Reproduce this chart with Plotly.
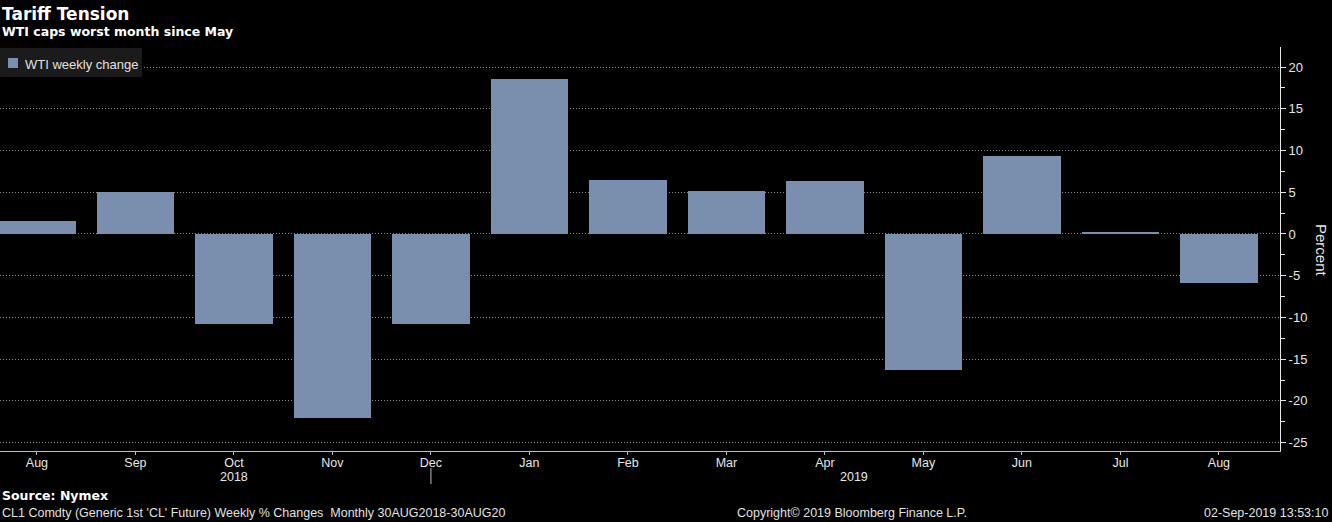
import plotly.graph_objects as go

months = ["Aug", "Sep", "Oct", "Nov", "Dec", "Jan", "Feb", "Mar", "Apr", "May", "Jun", "Jul", "Aug"]
values = [1.6, 5.0, -10.8, -22.0, -10.8, 18.6, 6.5, 5.2, 6.3, -16.3, 9.3, 0.2, -5.9]
y_ticks = [20, 15, 10, 5, 0, -5, -10, -15, -20, -25]
years = ["2018", "2019"]
year_pos = [2, 8.3]
x_idx = list(range(len(months)))
series_name = "WTI weekly change"

FONT = "Liberation Sans Narrow, Liberation Sans, Arial, sans-serif"
BOLD = "DejaVu Sans, Verdana, sans-serif"
BAR = "#7a8eae"
PLOT_W = 1280
PLOT_H = 404

fig = go.Figure()
fig.add_trace(go.Bar(
    x=x_idx, y=values, name=series_name,
    marker=dict(color=BAR, line=dict(width=0)),
    width=0.79, showlegend=False,
))

fig.update_layout(
    width=1332, height=522,
    paper_bgcolor="black", plot_bgcolor="black",
    margin=dict(l=0, r=52, t=47, b=71),
    font=dict(family=FONT, color="#e6e6e6", size=12),
    showlegend=False,
    bargap=0,
)

fig.update_xaxes(
    range=[-0.375, 12.62],
    tickvals=x_idx, ticktext=months,
    showgrid=False, zeroline=False,
    showline=True, linecolor="#bfbfbf", linewidth=1,
    ticks="outside", ticklen=3, tickcolor="#bfbfbf",
    ticklabelstandoff=-3,
    tickfont=dict(size=12.5, color="#e6e6e6"),
)

fig.update_yaxes(
    side="right",
    range=[-26.0, 22.4],
    tickvals=y_ticks, ticktext=[str(v) for v in y_ticks],
    showgrid=True, gridcolor="#8a8a8a", griddash="1px,2px", gridwidth=1,
    zeroline=False,
    showline=True, linecolor="#e6e6e6", linewidth=1,
    ticks="outside", ticklen=5, tickcolor="#e6e6e6",
    minor=dict(dtick=2.5, tick0=0, ticks="outside", ticklen=4, tickcolor="#e6e6e6", showgrid=False),
    tickfont=dict(size=13, color="#e6e6e6"),
)

def py(pix):
    # pixel row from top of figure -> paper y
    return (451 - pix) / PLOT_H

def px(pix):
    return pix / PLOT_W

annotations = [
    dict(text="<b>Tariff Tension</b>", x=0, y=py(14), xref="paper", yref="paper",
         xanchor="left", yanchor="middle", showarrow=False,
         font=dict(family=BOLD, size=17, color="white")),
    dict(text="<b>WTI caps worst month since May</b>", x=0, y=py(32), xref="paper", yref="paper",
         xanchor="left", yanchor="middle", showarrow=False,
         font=dict(family=BOLD, size=12.5, color="white")),
    dict(text=series_name, x=px(23), y=py(64), xref="paper", yref="paper",
         xanchor="left", yanchor="middle", showarrow=False,
         font=dict(size=13, color="#e0e0e0")),
    dict(text="Percent", x=1, y=py(250), xref="paper", yref="paper", textangle=90,
         xanchor="center", yanchor="middle", xshift=42, showarrow=False,
         font=dict(size=15, color="#e6e6e6")),
    dict(text="<b>Source: Nymex</b>", x=0, y=py(495), xref="paper", yref="paper",
         xanchor="left", yanchor="middle", showarrow=False,
         font=dict(family=BOLD, size=12.5, color="white")),
    dict(text="CL1 Comdty (Generic 1st 'CL' Future) Weekly % Changes  Monthly 30AUG2018-30AUG20",
         x=0, y=py(513), xref="paper", yref="paper", xanchor="left", yanchor="middle",
         showarrow=False, font=dict(size=12.5, color="#e0e0e0")),
    dict(text="Copyright© 2019 Bloomberg Finance L.P.", x=px(852), y=py(513), xref="paper", yref="paper",
         xanchor="center", yanchor="middle", showarrow=False,
         font=dict(size=12.5, color="#e0e0e0")),
    dict(text="02-Sep-2019 13:53:10", x=px(1330), y=py(513), xref="paper", yref="paper",
         xanchor="right", yanchor="middle", showarrow=False,
         font=dict(size=12.5, color="#e0e0e0")),
]
for yr, pos in zip(years, year_pos):
    annotations.append(dict(text=yr, x=pos, y=py(477), xref="x", yref="paper",
                            xanchor="center", yanchor="middle", showarrow=False,
                            font=dict(size=12.5, color="#e6e6e6")))
fig.update_layout(annotations=annotations)

# legend box and swatch
fig.add_shape(type="rect", xref="paper", yref="paper", x0=0, x1=px(142), y0=py(77), y1=py(48),
              fillcolor="#1b1b1b", line=dict(width=0), layer="above")
fig.add_shape(type="rect", xref="paper", yref="paper", x0=px(8), x1=px(18), y0=py(68), y1=py(58),
              fillcolor=BAR, line=dict(width=0), layer="above")
# year separator
fig.add_shape(type="line", x0=4, x1=4, xref="x", y0=py(468), y1=py(484), yref="paper",
              line=dict(color="#bfbfbf", width=1))

fig.write_html("out.html")
